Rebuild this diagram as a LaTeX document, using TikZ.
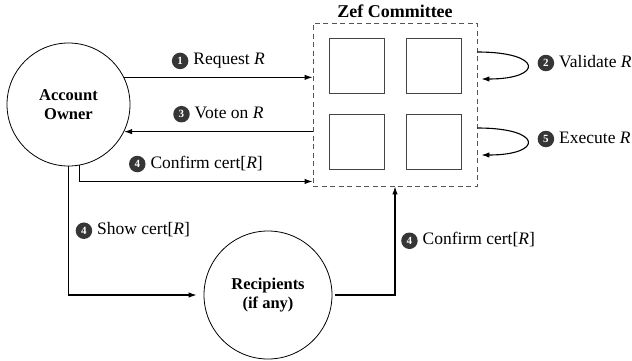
\documentclass[tikz,border=0pt]{standalone}
\usepackage{fontspec}
\setmainfont{Liberation Serif}
\usetikzlibrary{arrows.meta}
\definecolor{badgegray}{HTML}{363636}
\definecolor{boxgray}{HTML}{555555}
\definecolor{sqgray}{HTML}{444444}
\newcommand{\stepbadge}[1]{\tikz[baseline={([yshift=-4pt]bd.center)}]\node[circle,fill=badgegray,text=white,inner sep=0pt,minimum size=16.5pt,font=\bfseries\fontsize{11}{11}\selectfont](bd){#1};\hspace{5pt}}
\begin{document}
\begin{tikzpicture}[x=1pt,y=-1pt,
  font=\fontsize{17.5}{19}\selectfont,
  >={Latex[length=8pt,width=5.5pt]},
  party/.style={circle,draw,line width=0.8pt,inner sep=0pt,align=center,font=\bfseries\fontsize{16.5}{19}\selectfont},
  member/.style={draw=sqgray,line width=0.9pt,minimum size=55pt,inner sep=0pt},
  committee/.style={draw=boxgray,line width=0.9pt,dash pattern=on 5pt off 3.5pt,minimum width=164pt,minimum height=163pt,inner sep=0pt},
  flow/.style={->,line width=1.1pt},
  lbl/.style={inner sep=0pt}]
\useasboundingbox (0,0) rectangle (632,360);

\node[party,minimum size=123pt] (owner) at (68.5,104.5) {Account\\Owner};
\node[party,minimum size=128pt] (rec) at (268,295) {Recipients\\(if any)};

\node[committee] (zef) at (395,104.5) {};
\node[anchor=base,font=\bfseries\fontsize{18}{19}\selectfont] (title) at ([yshift=5pt]zef.north) {Zef Committee};

\node[member] (s1) at (356.5,66) {};
\node[member] (s2) at (433.5,66) {};
\node[member] (s3) at (356.5,142) {};
\node[member] (s4) at (433.5,142) {};

% Request and vote
\draw[flow] (owner.26.6) -- (owner.26.6 -| zef.west)
  node[lbl,midway,above=8pt] (l1) {\stepbadge{1}Request \textit{R}};
\draw[flow] (owner.-26.6 -| zef.west) -- (owner.-26.6)
  node[lbl,midway,above=9pt] (l3) {\stepbadge{3}Vote on \textit{R}};

% Confirm from owner
\draw[flow] (owner.-80) |- ([yshift=5pt]zef.south west)
  node[lbl,pos=0.75,above=9pt] (l4a) {\stepbadge{4}Confirm cert[\textit{R}]};

% Show cert to recipients
\draw[flow,shorten >=7pt] (owner.south) |- (rec.west)
  node[lbl,pos=0.25,right=7pt] (l4b) {\stepbadge{4}Show cert[\textit{R}]};

% Confirm from recipients
\draw[flow,shorten <=3pt] (rec.east) -| (zef.south)
  node[lbl,pos=0.75,right=6pt] (l4c) {\stepbadge{4}Confirm cert[\textit{R}]};

% Self loops
\coordinate (v1) at ([yshift=14pt]s2.center -| zef.east);
\coordinate (v2) at ([yshift=-13pt,xshift=4pt]s2.center -| zef.east);
\draw[flow] (v1) .. controls +(66,0) and +(62,0) .. (v2)
  node[lbl,pos=0.5,right=10pt,yshift=2.5pt] (l2) {\stepbadge{2}Validate \textit{R}};

\coordinate (e1) at ([yshift=14pt]s4.center -| zef.east);
\coordinate (e2) at ([yshift=-13pt,xshift=4pt]s4.center -| zef.east);
\draw[flow] (e1) .. controls +(66,0) and +(62,0) .. (e2)
  node[lbl,pos=0.5,right=10pt,yshift=2.5pt] (l5) {\stepbadge{5}Execute \textit{R}};
\end{tikzpicture}
\end{document}
